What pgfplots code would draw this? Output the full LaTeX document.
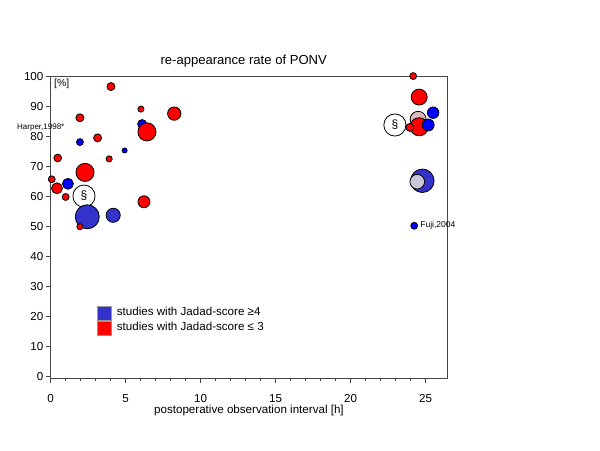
\documentclass[border=0pt]{standalone}
\usepackage{fontspec}
\setmainfont{Liberation Sans}
\usepackage{pgfplots}
\pgfplotsset{compat=1.18}

\definecolor{bred}{RGB}{255,0,0}
\definecolor{bblue}{RGB}{0,0,255}
\definecolor{dblue}{RGB}{51,51,204}
\definecolor{lgray}{RGB}{200,200,216}
\definecolor{pgray}{RGB}{217,186,186}
\definecolor{axgray}{RGB}{70,70,70}

% bubbles: x [h], rate [%], radius [pt], colour index
% 0 red, 1 blue, 2 dark blue, 3 light grey, 4 pink grey
\pgfplotstableread{
x     y     r    c
4.02  96.7  3.0  0
1.95  86.3  3.0  0
6.02  89.2  2.3  0
8.24  87.7  5.0  0
6.10  84.2  3.4  1
6.42  81.6  6.8  0
1.95  78.2  2.6  1
3.13  79.6  3.0  0
4.93  75.4  1.9  1
0.47  72.9  2.9  0
3.90  72.6  2.3  0
2.29  68.1  6.8  0
0.07  65.8  2.6  0
1.15  64.3  4.1  1
0.42  62.8  4.1  0
1.00  59.9  2.6  0
}\bubA
\pgfplotstableread{
x     y     r    c
6.22  58.3  4.5  0
2.44  53.3  9.0  2
4.17  53.8  5.3  2
1.95  50.0  2.3  0
24.17 100.2 2.6  0
24.57 93.2  6.0  0
24.50 85.8  6.0  4
25.50 88.0  4.3  1
24.57 83.3  6.8  0
23.95 83.1  3.0  0
25.17 83.9  4.5  1
24.78 65.3  8.8  2
24.44 65.0  5.5  3
24.24 50.3  2.6  1
}\bubB
\pgfplotstableread{
x     y
2.22  60.2
22.95 83.9
}\para

\begin{document}
\begin{tikzpicture}
\pgfplotsset{
  bubbles/.style={
    scatter, only marks, mark=*, forget plot,
    visualization depends on={\thisrow{r} \as \rad},
    visualization depends on={\thisrow{c} \as \cidx},
    scatter/@pre marker code/.code={%
      \pgfmathtruncatemacro\ci{\cidx}%
      \ifcase\ci\def\mcol{bred}\or\def\mcol{bblue}\or\def\mcol{dblue}\or\def\mcol{lgray}\or\def\mcol{pgray}\else\def\mcol{white}\fi
      \scope[mark size=\rad, fill=\mcol, draw=black, line width=0.6pt]},
    scatter/@post marker code/.code={\endscope},
  },
}
\begin{axis}[
  at={(38.0pt,53.8pt)}, anchor=south west,
  scale only axis,
  width=297.2pt, height=226.7pt,
  xmin=0, xmax=26.42,
  ymin=-0.53, ymax=100.23,
  clip=false,
  axis line style={axgray, line width=0.6pt},
  tick style={axgray, line width=0.6pt},
  tick align=outside,
  xtick pos=bottom, ytick pos=left,
  xtick={0,5,...,25},
  minor x tick num=4,
  ytick={0,10,...,100},
  major tick length=3.75pt,
  minor tick length=2.2pt,
  font=\fontsize{8.7}{10}\selectfont,
  /pgf/number format/assume math mode=true,
  xticklabel style={anchor=base, yshift=-14.2pt},
  yticklabel style={inner sep=1.5pt},
  legend style={at={(axis cs:3.07,23.6)}, anchor=north west, draw=none, fill=none,
    inner sep=0pt, row sep=0pt,
    nodes={inner sep=0pt, text height=7pt, text depth=3.5pt},
    font=\fontsize{8.7}{10}\selectfont},
  legend cell align=left,
]
\addplot[bubbles] table[x=x, y=y] {\bubA};
\addplot[only marks, mark=*, mark size=8.3pt, forget plot,
  mark options={fill=white, draw=black, line width=0.6pt},
  nodes near coords={\S},
  every node near coord/.append style={anchor=center, inner sep=0pt, yshift=0pt, font=\fontsize{9}{10}\selectfont}]
  table[x=x, y=y] {\para};
\addplot[bubbles] table[x=x, y=y] {\bubB};

\addlegendimage{legend image code/.code={\draw[fill=dblue, draw=gray!80, line width=0.4pt] (0pt,-5.25pt) rectangle (10.5pt,5.25pt); \path (14.5pt,0pt);}}
\addlegendentry{studies with Jadad-score ≥4}
\addlegendimage{legend image code/.code={\draw[fill=bred, draw=gray!80, line width=0.4pt] (0pt,-5.25pt) rectangle (10.5pt,5.25pt); \path (14.5pt,0pt);}}
\addlegendentry{studies with Jadad-score ≤ 3}

\node[anchor=base, font=\fontsize{9.8}{11}\selectfont] at (axis cs:12.87,104.2) {re-appearance rate of PONV};
\node[anchor=base] at (axis cs:13.22,-12.4) {postoperative observation interval [h]};
\node[anchor=west, inner sep=0pt, font=\fontsize{7.8}{9}\selectfont] at (axis cs:0.22,97.6) {[\%]};
\node[anchor=west, inner sep=0pt, font=\fontsize{6}{7}\selectfont] at (axis cs:-2.25,83.0) {Harper,1998*};
\node[anchor=west, inner sep=0pt, font=\fontsize{6.4}{7}\selectfont] at (axis cs:24.63,50.6) {Fuji,2004};
\end{axis}
\pgfresetboundingbox
\path (0,0) rectangle (450pt,337.5pt);
\end{tikzpicture}
\end{document}
